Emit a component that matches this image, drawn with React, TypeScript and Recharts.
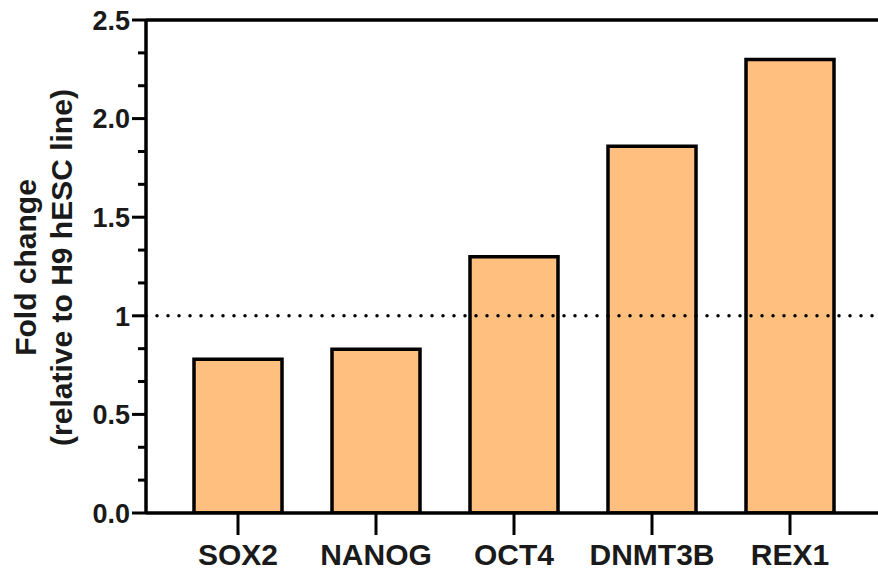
import React from 'react';
import { BarChart, Bar, XAxis, YAxis, ReferenceLine } from 'recharts';

const genes = ['SOX2', 'NANOG', 'OCT4', 'DNMT3B', 'REX1'];
const foldChange = [0.78, 0.83, 1.3, 1.86, 2.3];

const majorTicks = [0, 0.5, 1, 1.5, 2, 2.5];
const majorLabels = ['0.0', '0.5', '1', '1.5', '2.0', '2.5'];
const minorTicks = [0.1667, 0.3333, 0.6667, 0.8333, 1.1667, 1.3333, 1.6667, 1.8333, 2.1667, 2.3333];

const titleLines = ['Fold change', '(relative to H9 hESC line)'];

const FONT = '"Liberation Sans", Arial, Helvetica, sans-serif';
const BAR_FILL = '#FFBF7F';

const data = genes.map((gene, i) => ({ gene, value: foldChange[i] }));

function YTick(props: any) {
  const { x, y, payload } = props;
  const idx = majorTicks.indexOf(payload.value);
  const major = idx >= 0;
  return (
    <g>
      <line x1={x - (major ? 14 : 8)} x2={x} y1={y} y2={y} stroke="#000" strokeWidth={3} />
      {major && (
        <text x={x - 16} y={y} dy="0.36em" textAnchor="end" fontFamily={FONT} fontWeight="bold" fontSize={27} fill="#1a1a1a">
          {majorLabels[idx]}
        </text>
      )}
    </g>
  );
}

function XTick(props: any) {
  const { x, y, payload } = props;
  return (
    <g>
      <line x1={x} x2={x} y1={y} y2={y + 22} stroke="#000" strokeWidth={3} />
      <text x={x} y={y + 52} textAnchor="middle" fontFamily={FONT} fontWeight="bold" fontSize={30} fill="#1a1a1a">
        {payload.value}
      </text>
    </g>
  );
}

function YTitle(props: any) {
  const vb = props.viewBox;
  const cy = vb.y + vb.height / 2 + 1;
  const cx = 36;
  return (
    <text transform={`rotate(-90 ${cx} ${cy})`} x={cx} y={cy} textAnchor="middle" fontFamily={FONT} fontWeight="bold" fontSize={30} fill="#1a1a1a">
      {titleLines.map((t, i) => (
        <tspan key={i} x={cx} dy={i === 0 ? 0 : 36}>{t}</tspan>
      ))}
    </text>
  );
}

export default function App() {
  return (
    <div style={{ position: 'absolute', left: 0, top: 0, width: 878, height: 572, background: '#fff' }}>
      <BarChart width={878} height={572} data={data} margin={{ top: 20, right: 0, left: 0, bottom: 0 }}>
        <XAxis
          dataKey="gene"
          height={59}
          padding={{ left: 23, right: 19 }}
          axisLine={{ stroke: '#000', strokeWidth: 3.5 }}
          tickLine={false}
          tickSize={0}
          tickMargin={0}
          interval={0}
          tick={<XTick />}
        />
        <YAxis
          width={146}
          domain={[0, 2.5]}
          ticks={[...majorTicks, ...minorTicks].sort((a, b) => a - b)}
          allowDataOverflow
          axisLine={{ stroke: '#000', strokeWidth: 3.5 }}
          tickLine={false}
          tickSize={0}
          tickMargin={0}
          interval={0}
          tick={<YTick />}
          label={<YTitle />}
        />
        <ReferenceLine y={2.5} stroke="#000" strokeWidth={3.5} />
        <ReferenceLine y={1} stroke="#000" strokeWidth={3.5} strokeDasharray="0 11" strokeLinecap="round" />
        <Bar dataKey="value" fill={BAR_FILL} stroke="#000" strokeWidth={3.5} barSize={88} isAnimationActive={false} />
      </BarChart>
    </div>
  );
}
